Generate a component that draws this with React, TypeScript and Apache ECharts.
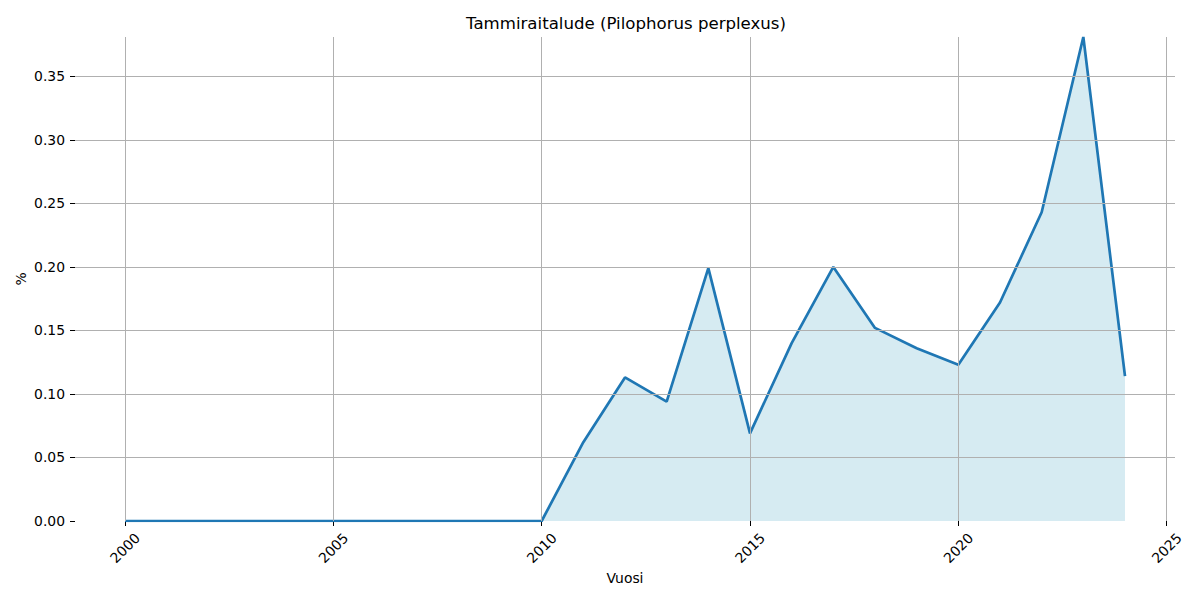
import React, { useEffect, useRef } from "react";
import * as echarts from "echarts";

const years = [2000, 2001, 2002, 2003, 2004, 2005, 2006, 2007, 2008, 2009, 2010, 2011, 2012, 2013, 2014, 2015, 2016, 2017, 2018, 2019, 2020, 2021, 2022, 2023, 2024];
const values = [0, 0, 0, 0, 0, 0, 0, 0, 0, 0, 0, 0.062, 0.113, 0.094, 0.199, 0.069, 0.140, 0.200, 0.152, 0.136, 0.123, 0.172, 0.243, 0.381, 0.114];
const xTicks = [2000, 2005, 2010, 2015, 2020, 2025];
const yTicks = [0, 0.05, 0.1, 0.15, 0.2, 0.25, 0.3, 0.35];
const title = "Tammiraitalude (Pilophorus perplexus)";
const xName = "Vuosi";
const yName = "%";
const xMin = 1998.8;
const xMax = 2025.2;
const yMax = 0.381;

const FONT = "DejaVu Sans";

export default function App() {
  const ref = useRef<HTMLDivElement>(null);
  useEffect(() => {
    if (!ref.current) return;
    const chart = echarts.init(ref.current, null, { renderer: "svg" });
    const data = years.map((y, i) => [y, values[i]]);
    const gridMarks = [
      ...xTicks.map((v) => ({ xAxis: v })),
      ...yTicks.filter((v) => v > 0).map((v) => ({ yAxis: v })),
    ];
    chart.setOption({
      animation: false,
      backgroundColor: "#ffffff",
      title: {
        text: title,
        left: 621,
        top: 10,
        textAlign: "center",
        textStyle: { fontFamily: FONT, fontSize: 16.6, fontWeight: "normal", color: "#000" },
      },
      grid: { left: 75, right: 25, top: 37, bottom: 79 },
      xAxis: {
        type: "value",
        min: xMin,
        max: xMax,
        axisLine: { show: false },
        axisTick: { show: true, customValues: xTicks, length: 5, lineStyle: { color: "#000" } },
        axisLabel: {
          customValues: xTicks,
          rotate: 45,
          align: "center",
          verticalAlign: "middle",
          margin: 27,
          formatter: (v: number) => String(v),
          fontFamily: FONT,
          fontSize: 13.9,
          color: "#000",
        },
        splitLine: { show: false },
        name: xName,
        nameLocation: "middle",
        nameGap: 57,
        nameMoveOverlap: false,
        nameTextStyle: { fontFamily: FONT, fontSize: 13.9, color: "#000", verticalAlign: "middle" },
      },
      yAxis: {
        type: "value",
        min: 0,
        max: yMax,
        axisLine: { show: false },
        axisTick: { show: true, customValues: yTicks, length: 5, lineStyle: { color: "#000" } },
        axisLabel: {
          customValues: yTicks,
          margin: 10,
          formatter: (v: number) => v.toFixed(2),
          fontFamily: FONT,
          fontSize: 13.9,
          color: "#000",
        },
        splitLine: { show: false },
        name: yName,
        nameLocation: "middle",
        nameGap: 54,
        nameRotate: 90,
        nameMoveOverlap: false,
        nameTextStyle: { fontFamily: FONT, fontSize: 13.9, color: "#000", align: "center", verticalAlign: "middle" },
      },
      series: [
        {
          type: "line",
          data,
          showSymbol: false,
          lineStyle: { width: 0, opacity: 0 },
          areaStyle: { color: "#ADD8E6", opacity: 0.5 },
          z: 1,
          silent: true,
        },
        {
          type: "line",
          data,
          showSymbol: false,
          lineStyle: { width: 0, opacity: 0 },
          z: 2,
          silent: true,
          markLine: {
            silent: true,
            symbol: ["none", "none"],
            label: { show: false },
            lineStyle: { color: "#b0b0b0", width: 1, type: "solid" },
            emphasis: { disabled: true },
            data: gridMarks,
          },
        },
        {
          type: "line",
          data,
          showSymbol: false,
          lineStyle: { width: 2.7, color: "#1f77b4" },
          itemStyle: { color: "#1f77b4" },
          z: 3,
          silent: true,
        },
      ],
    });
    return () => chart.dispose();
  }, []);
  return (
    <div
      ref={ref}
      style={{ position: "fixed", left: 0, top: 0, width: 1200, height: 600 }}
    />
  );
}
